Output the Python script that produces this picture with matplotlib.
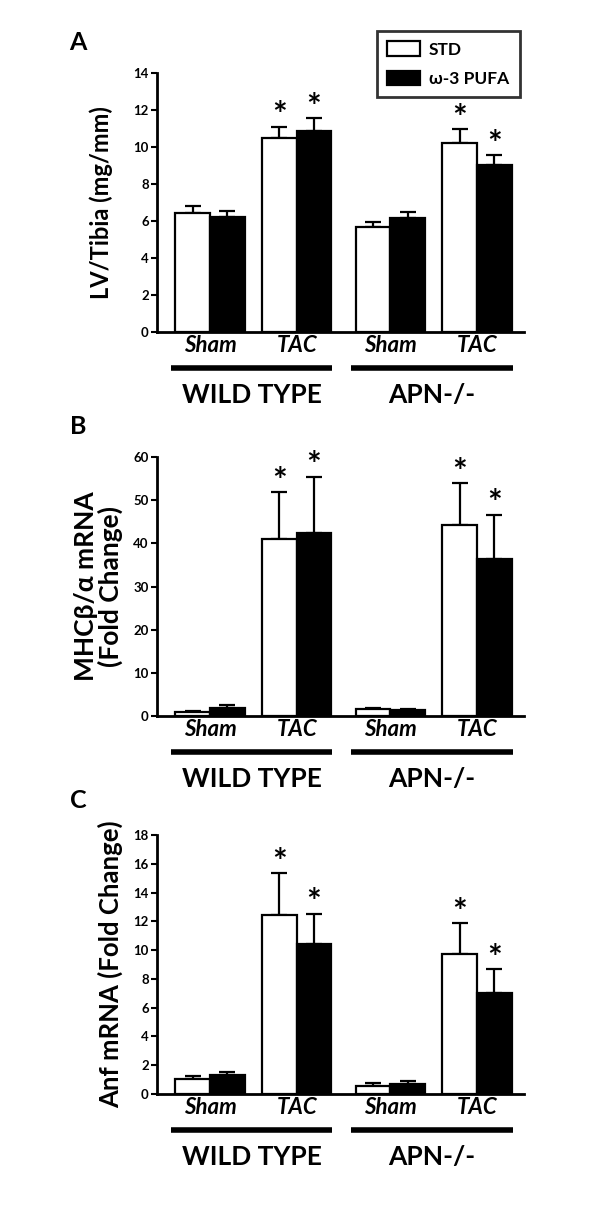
import numpy as np
import matplotlib.pyplot as plt
import matplotlib.transforms as mtransforms
from matplotlib.patches import Patch

plt.rcParams['font.family'] = ['Lato', 'DejaVu Sans']

# group / condition layout
conditions = ['Sham', 'TAC', 'Sham', 'TAC']
groups = ['WILD TYPE', 'APN-/-']
series = ['STD', 'ω-3 PUFA']

# panel A: LV/Tibia (mg/mm)
lv_std = [6.45, 10.5, 5.7, 10.2]
lv_std_err = [0.35, 0.6, 0.25, 0.75]
lv_pufa = [6.2, 10.85, 6.15, 9.05]
lv_pufa_err = [0.35, 0.7, 0.35, 0.5]

# panel B: MHC beta/alpha mRNA fold change
mhc_std = [1.0, 41.0, 1.55, 44.3]
mhc_std_err = [0.25, 10.8, 0.3, 9.6]
mhc_pufa = [1.95, 42.5, 1.4, 36.3]
mhc_pufa_err = [0.55, 12.9, 0.25, 10.3]

# panel C: Anf mRNA fold change
anf_std = [1.02, 12.45, 0.56, 9.73]
anf_std_err = [0.2, 2.9, 0.2, 2.15]
anf_pufa = [1.3, 10.42, 0.72, 7.04]
anf_pufa_err = [0.2, 2.1, 0.18, 1.62]

# stars on which bars (index into conditions)
star_idx = [1, 3]

panels = [
    ('A', lv_std, lv_std_err, lv_pufa, lv_pufa_err, 'LV/Tibia (mg/mm)', 17, 14, 2, -0.12, 0.9402),
    ('B', mhc_std, mhc_std_err, mhc_pufa, mhc_pufa_err, 'MHCβ/α mRNA\n(Fold Change)', 19, 60, 10, -0.093, 0.6257),
    ('C', anf_std, anf_std_err, anf_pufa, anf_pufa_err, 'Anf mRNA (Fold Change)', 18.5, 18, 2, -0.093, 0.3161),
]

fig = plt.figure(figsize=(6, 12.21), dpi=100)

pos = np.array([0, 1, 2.08, 3.08])
w = 0.4
ax_h = 259 / 1221

for label, s, se, p, pe, ylab, yfs, ymax, step, ylx, top in panels:
    ax = fig.add_axes([0.262, top - ax_h, 0.611, ax_h])
    ax.bar(pos - w / 2, s, w, color='white', edgecolor='black', linewidth=1.6, zorder=3)
    ax.bar(pos + w / 2, p, w, color='black', edgecolor='black', linewidth=1.6, zorder=3)
    ax.errorbar(pos - w / 2, s, yerr=[np.zeros(4), se], fmt='none', ecolor='black',
                elinewidth=1.6, capsize=6, capthick=1.6, zorder=2)
    ax.errorbar(pos + w / 2, p, yerr=[np.zeros(4), pe], fmt='none', ecolor='black',
                elinewidth=1.6, capsize=6, capthick=1.6, zorder=2)
    for i in star_idx:
        ax.annotate('*', (pos[i] - w / 2, s[i] + se[i]), xytext=(0, -4), textcoords='offset points',
                    ha='center', va='bottom', fontsize=25, fontweight='bold')
        ax.annotate('*', (pos[i] + w / 2, p[i] + pe[i]), xytext=(0, -4), textcoords='offset points',
                    ha='center', va='bottom', fontsize=25, fontweight='bold')

    ax.set_xlim(-0.61, 3.62)
    ax.set_ylim(0, ymax)
    ax.set_yticks(np.arange(0, ymax + 0.1, step))
    ax.tick_params(axis='y', direction='out', length=4, width=1.5, labelsize=9.5, pad=2)
    for t in ax.get_yticklabels():
        t.set_fontweight('bold')
    ax.set_xticks(pos)
    ax.set_xticklabels(conditions, fontsize=16, fontweight='bold', style='italic')
    ax.tick_params(axis='x', length=0, pad=2)
    for sp in ['top', 'right']:
        ax.spines[sp].set_visible(False)
    for sp in ['left', 'bottom']:
        ax.spines[sp].set_linewidth(2)

    ax.set_ylabel(ylab, fontsize=yfs, fontweight='bold', linespacing=1.0)
    ax.yaxis.set_label_coords(ylx, 0.5)

    trans = mtransforms.blended_transform_factory(ax.transData, ax.transAxes)
    for g, (a, b) in enumerate([(0, 1), (2, 3)]):
        ax.plot([pos[a] - 0.45, pos[b] + 0.41], [-0.14, -0.14], color='black', lw=4,
                transform=trans, clip_on=False, solid_capstyle='butt')
        ax.text((pos[a] + pos[b]) / 2 - 0.02, -0.245, groups[g], transform=trans, ha='center',
                va='center', fontsize=19, fontweight='bold')

    fig.text(78 / 600, top + 0.025 if label != 'C' else top + 0.028, label, fontsize=18,
             fontweight='bold', ha='center', va='center')

    if label == 'A':
        handles = [Patch(facecolor='white', edgecolor='black', linewidth=1.6),
                   Patch(facecolor='black', edgecolor='black', linewidth=1.6)]
        leg = fig.legend(handles, series, loc='upper left', bbox_to_anchor=(377 / 600, 1 - 31 / 1221),
                         borderaxespad=0, frameon=True, fancybox=False, edgecolor='black',
                         handlelength=1.9, handleheight=0.9, handletextpad=0.5, borderpad=0.6,
                         labelspacing=0.75, prop={'weight': 'bold', 'size': 12.5})
        leg.get_frame().set_linewidth(2)

fig.savefig('out.png', dpi=100)
